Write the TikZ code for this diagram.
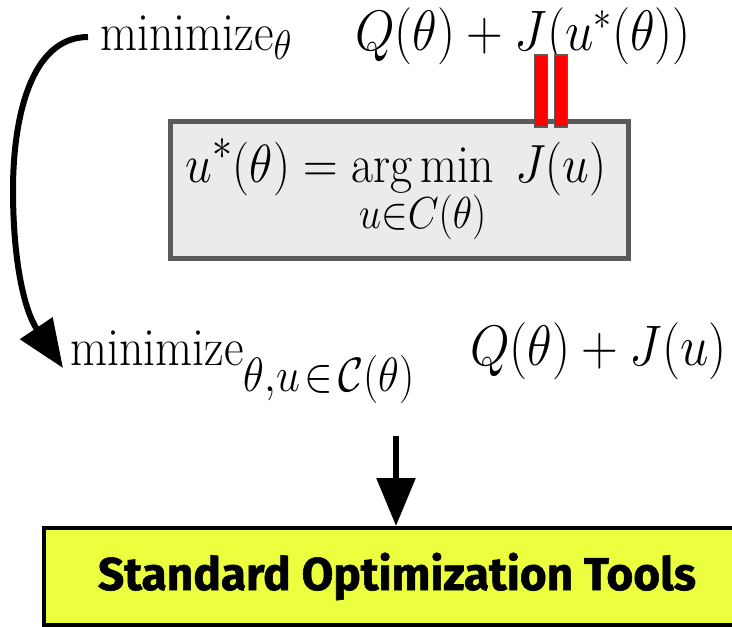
\documentclass[tikz,border=0pt]{standalone}
\usepackage{fix-cm}
\usepackage{graphicx}
\usepackage{fontspec}
\newfontfamily\firasans{Fira Sans}[FakeBold=1.2]
\usetikzlibrary{arrows.meta}
\DeclareMathSizes{48}{48}{40}{30}
\DeclareMathSizes{51}{51}{36}{26}
\newcommand{\vs}[1]{\scalebox{1}[1.12]{#1}}
\newcommand{\subat}[3]{\raisebox{-#2pt}{\fontsize{#1}{#1}\selectfont$#3$}}
\definecolor{boxgray}{RGB}{235,235,235}
\definecolor{edgegray}{RGB}{90,90,90}
\definecolor{toolyellow}{RGB}{236,255,62}
\tikzset{
  txt/.style={inner sep=0pt, outer sep=0pt, font=\fontsize{48}{58}\selectfont},
  bigtxt/.style={inner sep=0pt, outer sep=0pt, font=\fontsize{51}{60}\selectfont},
  graybox/.style={draw=edgegray, fill=boxgray, line width=5pt, inner sep=0pt},
  redbar/.style={draw=edgegray, fill=red, line width=1.5pt, inner sep=0pt, minimum width=13pt, minimum height=72pt},
  toolbox/.style={draw=black, fill=toolyellow, line width=4pt, inner sep=0pt},
  bigarrow/.style={line width=6pt, -{Triangle[length=48pt,width=38pt]}},
}
\begin{document}
\begin{tikzpicture}[x=1pt,y=-1pt]
\useasboundingbox (0,0) rectangle (732,627);
% top line
\node[txt, anchor=base west] (m1) at (100,50) {\vs{$\mathrm{minimize}$\subat{37}{8.5}{\theta}}};
\node[bigtxt, anchor=base west] (f1) at (355,50) {\vs{$Q(\theta) + J(u^*(\theta))$}};
% gray box
\node[graybox, minimum width=458pt, minimum height=137pt] (gb) at (399,189.5) {};
\node[txt, anchor=base] (argmin) at (396,182) {\vs{$\displaystyle u^*(\theta) = \mathop{\arg\min}\limits_{u\in C(\theta)}\; J(u)$}};
% red bars
\node[redbar] (r1) at (541,91) {};
\node[redbar] (r2) at (561,91) {};
% second line
\node[txt, anchor=base west] (m2) at (70,365) {\vs{$\mathrm{minimize}$\subat{43}{24}{\theta{,}u\mathrel{\!\in\!}\mathcal{C}(\theta)}}};
\node[bigtxt, anchor=base west] (f2) at (470,365) {\vs{$Q(\theta) + J(u)$}};
% bottom box
\node[toolbox, minimum width=696pt, minimum height=97pt] (tb) at (392,576.5) {};
\node[inner sep=0pt, anchor=base, font=\firasans\bfseries\fontsize{46}{54}\selectfont] (tools) at (397,590) {Standard Optimization Tools};
% arrows
\coordinate (cs) at (88,37);
\coordinate (ce) at (63,368);
\draw[bigarrow] (cs) .. controls (30,37) and (13,120) .. (13,190) .. controls (13,260) and (24,310) .. (ce);
\coordinate (ds) at (396,436);
\draw[bigarrow] (ds) -- (ds |- tb.north);
\end{tikzpicture}
\end{document}
